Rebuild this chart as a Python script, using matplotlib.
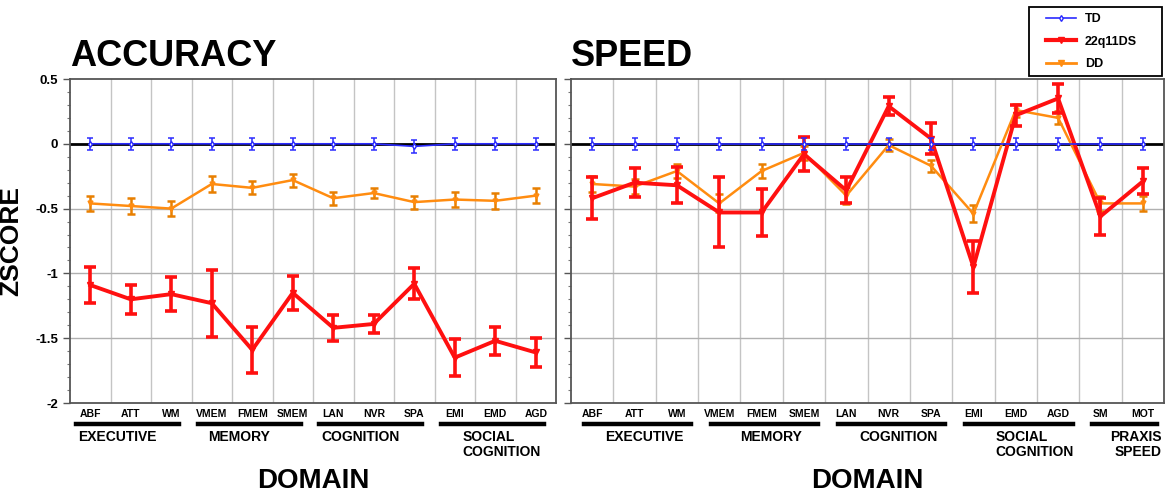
import numpy as np
import matplotlib.pyplot as plt
from matplotlib.lines import Line2D
from matplotlib.patches import Rectangle

plt.rcParams['font.family'] = ['Liberation Sans', 'DejaVu Sans']
plt.rcParams['font.weight'] = 'bold'

# ====== DATA ======
acc_labels = ["ABF", "ATT", "WM", "VMEM", "FMEM", "SMEM", "LAN", "NVR", "SPA", "EMI", "EMD", "AGD"]
acc_td     = [0.0, 0.0, 0.0, 0.0, 0.0, 0.0, 0.0, 0.0, -0.02, 0.0, 0.0, 0.0]
acc_td_err = [0.045, 0.045, 0.045, 0.045, 0.045, 0.045, 0.045, 0.045, 0.05, 0.045, 0.045, 0.045]
acc_ds     = [-1.09, -1.20, -1.16, -1.23, -1.59, -1.15, -1.42, -1.39, -1.08, -1.65, -1.52, -1.61]
acc_ds_err = [0.14, 0.11, 0.13, 0.26, 0.18, 0.13, 0.10, 0.07, 0.12, 0.14, 0.11, 0.11]
acc_dd     = [-0.46, -0.48, -0.50, -0.31, -0.34, -0.28, -0.42, -0.38, -0.45, -0.43, -0.44, -0.40]
acc_dd_err = [0.06, 0.06, 0.06, 0.06, 0.05, 0.05, 0.05, 0.04, 0.05, 0.06, 0.06, 0.06]

spd_labels = ["ABF", "ATT", "WM", "VMEM", "FMEM", "SMEM", "LAN", "NVR", "SPA", "EMI", "EMD", "AGD", "SM", "MOT"]
spd_td     = [0.0, 0.0, 0.0, 0.0, 0.0, 0.0, 0.0, 0.0, 0.0, 0.0, 0.0, 0.0, 0.0, 0.0]
spd_td_err = [0.045, 0.045, 0.045, 0.045, 0.045, 0.045, 0.045, 0.045, 0.045, 0.045, 0.045, 0.045, 0.045, 0.045]
spd_ds     = [-0.42, -0.30, -0.32, -0.53, -0.53, -0.08, -0.36, 0.29, 0.04, -0.95, 0.22, 0.35, -0.56, -0.29]
spd_ds_err = [0.16, 0.11, 0.14, 0.27, 0.18, 0.13, 0.10, 0.07, 0.12, 0.20, 0.08, 0.11, 0.14, 0.10]
spd_dd     = [-0.31, -0.33, -0.21, -0.46, -0.21, -0.07, -0.40, -0.01, -0.17, -0.54, 0.26, 0.20, -0.46, -0.46]
spd_dd_err = [0.06, 0.06, 0.055, 0.07, 0.055, 0.055, 0.065, 0.045, 0.045, 0.065, 0.05, 0.05, 0.06, 0.055]

acc_groups = [("EXECUTIVE", 0, 2), ("MEMORY", 3, 5), ("COGNITION", 6, 8), ("SOCIAL\nCOGNITION", 9, 11)]
spd_groups = acc_groups + [("PRAXIS\nSPEED", 12, 13)]

C_TD = "#2b2bff"
C_DS = "#ff1010"
C_DD = "#ff8c10"
C_DD_ERR = "#e87f00"

fig = plt.figure(figsize=(11.73, 4.96), dpi=100)
ax1 = fig.add_axes([70/1173, 1-403/496, 486/1173, 324/496])
ax2 = fig.add_axes([571/1173, 1-403/496, 593/1173, 324/496])


def draw_panel(ax, labels, td, td_e, ds, ds_e, dd, dd_e, groups, title, shift, show_y):
    x = np.arange(len(labels))
    ax.set_xlim(-0.5, len(labels) - 0.5)
    ax.set_ylim(-2, 0.5)

    # grid
    for gx in np.arange(0.5, len(labels) - 0.5, 1.0):
        ax.axvline(gx, color="#c4c4c4", lw=1.0, zorder=0)
    for gy in [-1.5, -1.0, -0.5]:
        ax.axhline(gy, color="#b0b0b0", lw=1.0, zorder=0)
    ax.axhline(0, color="black", lw=2.0, zorder=1)

    ax.errorbar(x, dd, yerr=dd_e, color=C_DD, ecolor=C_DD_ERR, lw=1.8, elinewidth=1.8,
                capsize=3, capthick=1.8, marker="v", ms=3.5, zorder=3)
    ax.errorbar(x, ds, yerr=ds_e, color=C_DS, lw=2.8, elinewidth=2.6,
                capsize=4, capthick=2.6, marker="v", ms=4, zorder=4)
    ax.errorbar(x, td, yerr=td_e, color=C_TD, lw=1.2, elinewidth=1.1,
                capsize=2.5, capthick=1.1, marker="d", ms=3, mfc="white", zorder=5)

    for s in ax.spines.values():
        s.set_color("#555555")
        s.set_linewidth(1.3)

    ax.set_xticks(x)
    ax.set_xticklabels(labels, fontsize=7.5, fontweight="bold")
    ax.tick_params(axis="x", length=0, pad=4)
    ax.set_yticks([0.5, 0, -0.5, -1, -1.5, -2])
    ax.set_yticks(np.arange(-2, 0.51, 0.1), minor=True)
    ax.tick_params(axis="y", which="major", length=5, width=1, color="#555555", direction="out")
    ax.tick_params(axis="y", which="minor", length=2.5, width=0.8, color="#777777", direction="out")
    if show_y:
        ax.set_yticklabels(["0.5", "0", "-0.5", "-1", "-1.5", "-2"], fontsize=9.5, fontweight="bold")
    else:
        ax.set_yticklabels([])

    # group underlines and names
    tr = ax.get_xaxis_transform()
    for name, a, b in groups:
        ax.add_line(Line2D([a - 0.27 + shift, b + 0.27 + shift], [-0.066, -0.066], transform=tr,
                           color="black", lw=3.2, clip_on=False))
        if name.startswith("PRAXIS"):
            ax.text(b + 0.45, -0.082, name, transform=tr, ha="right", va="top",
                    multialignment="right", fontsize=10, fontweight="bold", linespacing=1.15)
        elif name.startswith("SOCIAL"):
            ax.text((a + b) / 2 + 0.3 + shift * 2, -0.082, name, transform=tr, ha="center", va="top",
                    multialignment="left", fontsize=10, fontweight="bold", linespacing=1.15)
        else:
            ax.text((a + b) / 2 + shift * 4 - 0.05, -0.082, name, transform=tr, ha="center", va="top",
                    fontsize=10, fontweight="bold")

    ax.text(0.5, -0.24, "DOMAIN", transform=ax.transAxes, ha="center", va="center",
            fontsize=20, fontweight="bold")
    ax.text(0.0, 1.04, title, transform=ax.transAxes, ha="left", va="baseline",
            fontsize=26, fontweight="bold")


draw_panel(ax1, acc_labels, acc_td, acc_td_err, acc_ds, acc_ds_err, acc_dd, acc_dd_err,
           acc_groups, "ACCURACY", -0.07, True)
draw_panel(ax2, spd_labels, spd_td, spd_td_err, spd_ds, spd_ds_err, spd_dd, spd_dd_err,
           spd_groups, "SPEED", 0.07, False)

ax1.set_ylabel("ZSCORE", fontsize=19, fontweight="bold")
ax1.yaxis.set_label_coords(-0.097, 0.5)

# legend: box drawn separately so its padding matches
fig.patches.append(Rectangle((1029/1173, 1 - 76/496), 133/1173, 69/496, transform=fig.transFigure,
                             fill=False, edgecolor="black", lw=1.3))
handles = [
    Line2D([], [], color=C_TD, lw=1.2, marker="d", ms=3, mfc="white"),
    Line2D([], [], color=C_DS, lw=3, marker="v", ms=5),
    Line2D([], [], color=C_DD, lw=2, marker="v", ms=4),
]
leg = fig.legend(handles, ["TD", "22q11DS", "DD"], loc="upper left",
                 bbox_to_anchor=(1046/1173, 1 - 13/496), fontsize=9, frameon=False,
                 handlelength=2.4, labelspacing=0.85, borderpad=0, handletextpad=0.7,
                 borderaxespad=0)
for t in leg.get_texts():
    t.set_fontweight("bold")

fig.savefig("out.png", dpi=100)
